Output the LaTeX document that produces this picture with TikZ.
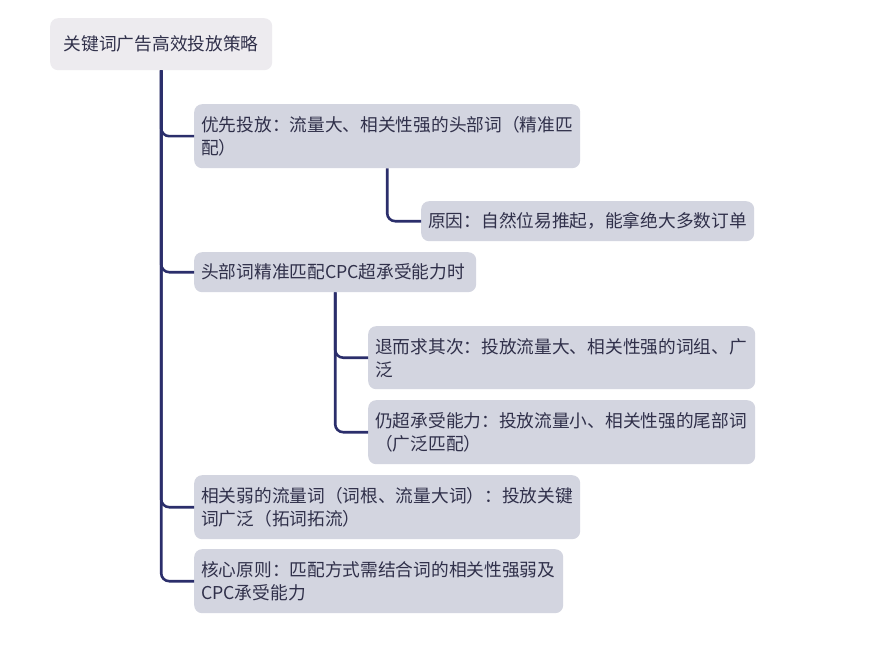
\documentclass[tikz,border=0pt]{standalone}
\usepackage{fontspec}
\setmainfont{Noto Sans CJK SC}
\usetikzlibrary{positioning}
\definecolor{rootfill}{HTML}{EDEBEF}
\definecolor{childfill}{HTML}{D3D5E0}
\definecolor{linec}{HTML}{2B2E6B}
\definecolor{textc}{HTML}{30304A}
\tikzset{
  box/.style={anchor=north west, rounded corners=8pt, fill=childfill, inner xsep=7pt, inner ysep=0pt,
    align=left, text=textc, font=\fontsize{17.7pt}{23pt}\selectfont},
  rootbox/.style={anchor=north west, rounded corners=8pt, fill=rootfill, inner xsep=12pt, inner ysep=0pt,
    minimum height=52pt, text=textc, font=\fontsize{17.7pt}{23pt}\selectfont},
  conn/.style={draw=linec, line width=2.6pt, rounded corners=8pt},
}
\begin{document}
\begin{tikzpicture}[x=1pt,y=-1pt]
\useasboundingbox[fill=white] (0,0) rectangle (884,650);
\node[rootbox, minimum width=222pt] (root) at (50,18) {关键词广告高效投放策略};
\node[box, text width=372pt, minimum height=64pt] (A) at (194,104) {优先投放：流量大、相关性强的头部词（精准匹\\配）};
\node[box, text width=319pt, minimum height=40pt] (A1) at (421,201) {原因：自然位易推起，能拿绝大多数订单};
\node[box, text width=268pt, minimum height=40pt] (B) at (194,252) {头部词精准匹配CPC超承受能力时};
\node[box, text width=373pt, minimum height=63pt] (B1) at (368,326) {退而求其次：投放流量大、相关性强的词组、广\\泛};
\node[box, text width=373pt, minimum height=64pt] (B2) at (368,400) {仍超承受能力：投放流量小、相关性强的尾部词\\（广泛匹配）};
\node[box, text width=372pt, minimum height=64pt] (C) at (194,475) {相关弱的流量词（词根、流量大词）：投放关键\\词广泛（拓词拓流）};
\node[box, text width=355pt, minimum height=64pt] (D) at (194,549) {核心原则：匹配方式需结合词的相关性强弱及\\CPC承受能力};
\draw[conn] (root.south) |- (A.west);
\draw[conn] (root.south) |- (B.west);
\draw[conn] (root.south) |- (C.west);
\draw[conn] (root.south) |- (D.west);
\draw[conn] (A.south) |- (A1.west);
\draw[conn] (B.south) |- (B1.west);
\draw[conn] (B.south) |- (B2.west);
\end{tikzpicture}
\end{document}
